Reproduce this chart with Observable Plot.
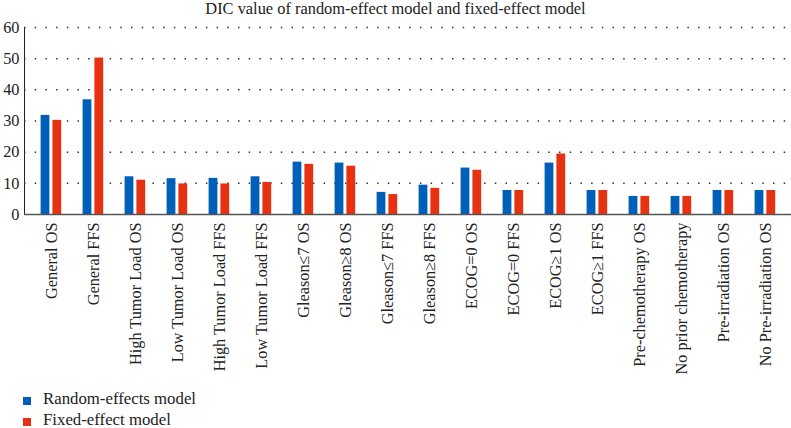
<!DOCTYPE html>
<html>
<head>
<meta charset="utf-8">
<script src="https://cdn.jsdelivr.net/npm/d3@7"></script>
<script src="https://cdn.jsdelivr.net/npm/@observablehq/plot@0.6"></script>
<style>
  html, body { margin: 0; padding: 0; background: #fff; }
  body { width: 791px; height: 428px; position: relative; overflow: hidden; font-family: "Liberation Serif", "DejaVu Serif", serif; color: #222; }
  #title { position: absolute; left: 0; top: 0; width: 791px; text-align: center; font-size: 16.4px; line-height: 17px; color: #222; }
  #chart { position: absolute; left: 0; top: 18px; }
  #chart svg text { font-family: "Liberation Serif", "DejaVu Serif", serif; font-size: 16.3px; }
  #legend { position: absolute; left: 0; top: 390px; font-size: 16.8px; }
  .item { position: absolute; left: 23px; white-space: nowrap; height: 20px; }
  .sw { position: absolute; left: 0; width: 8px; height: 8px; }
  .lab { position: absolute; left: 20px; line-height: 20px; top: -1px; }
</style>
</head>
<body>
<div id="title">DIC value of random-effect model and fixed-effect model</div>
<div id="chart"></div>
<div id="legend"></div>
<script>
const categories = [
  "General OS", "General FFS", "High Tumor Load OS", "Low Tumor Load OS",
  "High Tumor Load FFS", "Low Tumor Load FFS", "Gleason\u22647 OS", "Gleason\u22658 OS",
  "Gleason\u22647 FFS", "Gleason\u22658 FFS", "ECOG=0 OS", "ECOG=0 FFS",
  "ECOG\u22651 OS", "ECOG\u22651 FFS", "Pre-chemotherapy OS", "No prior chemotherapy",
  "Pre-irradiation OS", "No Pre-irradiation OS"
];
const randomEffects = [31.8, 36.8, 12.1, 11.5, 11.6, 12.1, 16.8, 16.5, 7.1, 9.4, 14.9, 7.7, 16.5, 7.7, 5.8, 5.8, 7.7, 7.7];
const fixedEffect  = [30.2, 50.2, 11.0, 9.8, 9.8, 10.3, 16.1, 15.5, 6.4, 8.4, 14.2, 7.7, 19.4, 7.7, 5.8, 5.8, 7.7, 7.7];
const seriesNames = ["Random-effects model", "Fixed-effect model"];
const seriesColors = ["#005fb8", "#e63212"];
const yTicks = [0, 10, 20, 30, 40, 50, 60];

const randomData = categories.map((c, i) => ({category: c, value: randomEffects[i]}));
const fixedData = categories.map((c, i) => ({category: c, value: fixedEffect[i]}));

const chart = Plot.plot({
  width: 791,
  height: 370,
  marginLeft: 24,
  marginRight: 0,
  marginTop: 9,
  marginBottom: 174,
  style: {fontFamily: "Liberation Serif, DejaVu Serif, serif", fontSize: "16px", color: "#222", background: "transparent"},
  x: {domain: categories, padding: 0, label: null, tickSize: 0, tickPadding: 8, tickRotate: -90},
  y: {domain: [0, 60], ticks: yTicks, label: null, tickSize: 0, tickPadding: 5, line: true},
  marks: [
    Plot.ruleY(yTicks.filter(d => d > 0), {stroke: "#333", strokeWidth: 1.5, strokeDasharray: "1.5,9.2"}),
    Plot.barY(randomData, {x: "category", y: "value", fill: seriesColors[0], insetLeft: 10.6, insetRight: 22.6}),
    Plot.barY(fixedData, {x: "category", y: "value", fill: seriesColors[1], insetLeft: 22.4, insetRight: 10.8}),
    Plot.ruleY([0], {stroke: "#555", strokeWidth: 1.5})
  ]
});
document.getElementById("chart").appendChild(chart);

const legend = document.getElementById("legend");
seriesNames.forEach((name, i) => {
  const item = document.createElement("div");
  item.className = "item";
  item.style.top = (i * 21) + "px";
  const sw = document.createElement("div");
  sw.className = "sw";
  sw.style.background = seriesColors[i];
  sw.style.top = "7px";
  const lab = document.createElement("div");
  lab.className = "lab";
  lab.textContent = name;
  item.appendChild(sw);
  item.appendChild(lab);
  legend.appendChild(item);
});
</script>
</body>
</html>
